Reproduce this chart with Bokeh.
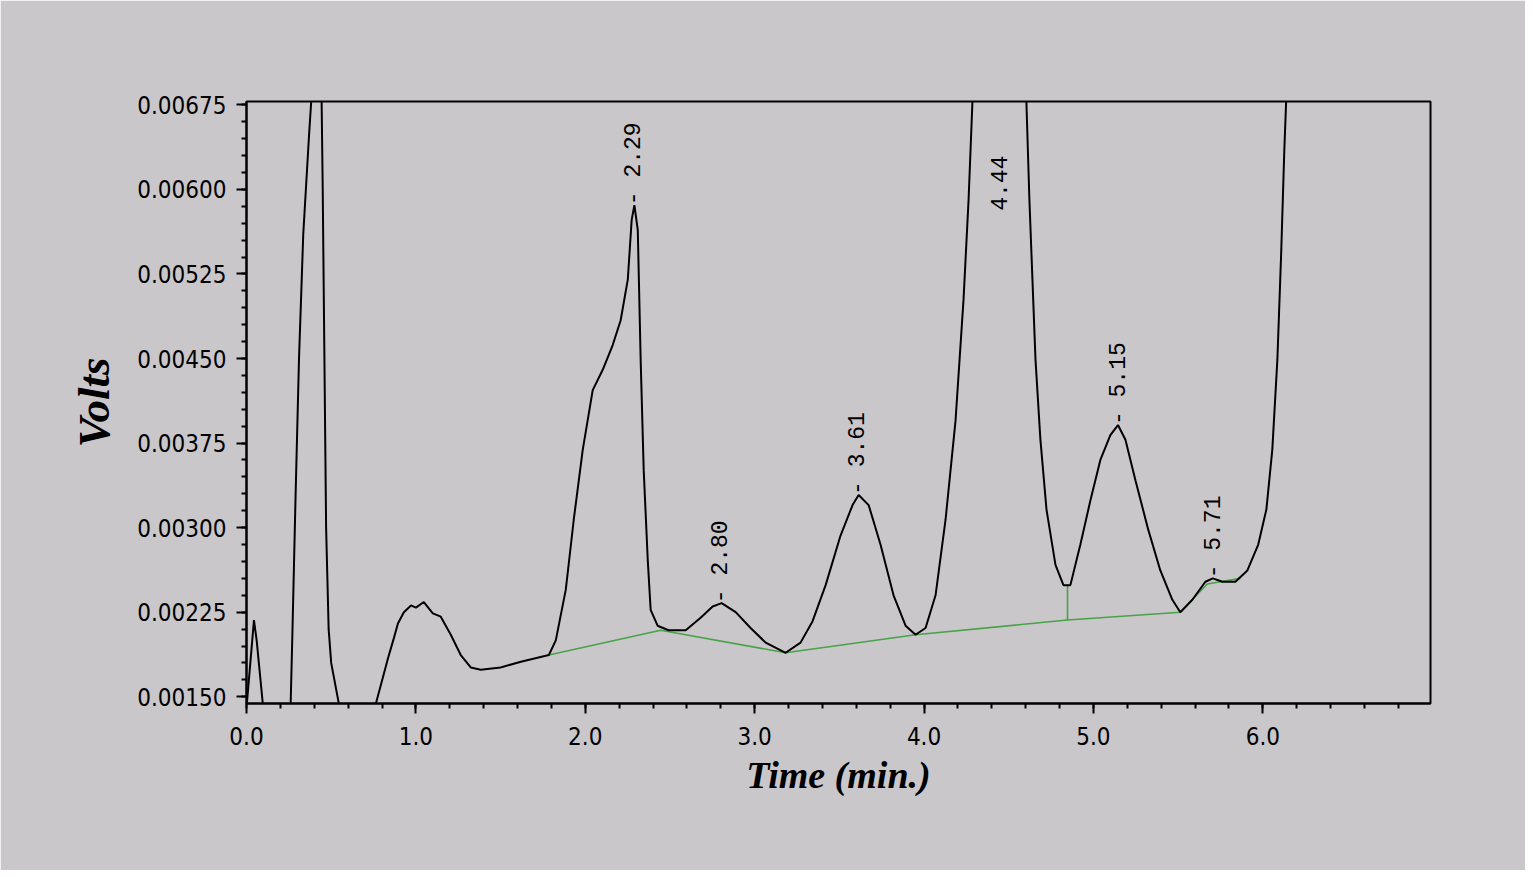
import math
from bokeh.plotting import figure
from bokeh.models import Range1d, FixedTicker, ColumnDataSource, PrintfTickFormatter
from bokeh.core.properties import value
from bokeh.embed import file_html
from bokeh.resources import INLINE

# ---- data ----
trace_time = [0.00, 0.044, 0.06, 0.10,
              0.26, 0.27, 0.29, 0.31, 0.335, 0.37, 0.40, 0.42, 0.44, 0.45, 0.46, 0.47, 0.485, 0.50, 0.55,
              0.764, 0.835, 0.870, 0.894, 0.929, 0.971, 1.000, 1.047, 1.100, 1.147, 1.206, 1.265, 1.324,
              1.383, 1.500, 1.620, 1.785, 1.826, 1.885, 1.932, 1.985, 2.044, 2.103, 2.162, 2.209, 2.251,
              2.274, 2.290, 2.310, 2.327, 2.345, 2.369, 2.386, 2.427, 2.492, 2.593, 2.681, 2.752, 2.805,
              2.888, 2.976, 3.065, 3.183, 3.271, 3.342, 3.419, 3.507, 3.578, 3.614, 3.673, 3.743, 3.820,
              3.891, 3.950, 4.009, 4.068, 4.127, 4.186, 4.233, 4.263, 4.286, 4.44, 4.604, 4.622, 4.640,
              4.658, 4.687, 4.723, 4.776, 4.823, 4.864, 4.923, 4.982, 5.041, 5.100, 5.145, 5.189, 5.248,
              5.324, 5.395, 5.466, 5.513, 5.584, 5.661, 5.705, 5.761, 5.838, 5.909, 5.973, 6.021, 6.056,
              6.086, 6.109, 6.127, 6.138, 6.150]
trace_volts = [0.00140, 0.00218, 0.00200, 0.00138,
               0.00140, 0.00200, 0.00330, 0.00450, 0.00560, 0.00650, 0.00720, 0.00760, 0.00720, 0.00600,
               0.00450, 0.00300, 0.00210, 0.00180, 0.00140,
               0.00144, 0.00184, 0.00202, 0.00215, 0.00225, 0.00231, 0.00229, 0.00234, 0.00224, 0.00221,
               0.00205, 0.00187, 0.00176, 0.00174, 0.00176, 0.00181, 0.00187, 0.00200, 0.00245, 0.00307,
               0.00369, 0.00422, 0.00440, 0.00462, 0.00484, 0.00520, 0.00573, 0.00586, 0.00564, 0.00449,
               0.00351, 0.00271, 0.00227, 0.00213, 0.00209, 0.00209, 0.00220, 0.00230, 0.00233, 0.00225,
               0.00211, 0.00198, 0.00189, 0.00198, 0.00217, 0.00249, 0.00293, 0.00320, 0.00329, 0.00320,
               0.00285, 0.00240, 0.00213, 0.00205, 0.00211, 0.00240, 0.00307, 0.00395, 0.00502, 0.00591,
               0.00679, 0.00900, 0.00679, 0.00591, 0.00520, 0.00449, 0.00378, 0.00316, 0.00267, 0.00249,
               0.00249, 0.00285, 0.00324, 0.00360, 0.00382, 0.00391, 0.00378, 0.00342, 0.00298, 0.00262,
               0.00236, 0.00225, 0.00236, 0.00252, 0.00255, 0.00252, 0.00252, 0.00262, 0.00285, 0.00316,
               0.00369, 0.00449, 0.00546, 0.00635, 0.00679, 0.00720]

baseline_time = [1.785, 2.445, 3.183, 3.950, 4.847, 5.513, 5.672, 5.867]
baseline_volts = [0.00187, 0.00209, 0.00189, 0.00205, 0.00218, 0.00225, 0.00250, 0.00255]
drop_time = [4.847, 4.847]
drop_volts = [0.00249, 0.00218]

peak_time = [2.29, 2.80, 3.61, 4.44, 5.15, 5.71]
peak_volts = [0.00586, 0.00233, 0.00329, 0.00581, 0.00391, 0.00255]
peak_text = ["- 2.29", "- 2.80", "- 3.61", "4.44", "- 5.15", "- 5.71"]

x_ticks = [0.0, 1.0, 2.0, 3.0, 4.0, 5.0, 6.0]
x_minor = [round(0.2 * i, 1) for i in range(35)]
y_ticks = [0.00150, 0.00225, 0.00300, 0.00375, 0.00450, 0.00525, 0.00600, 0.00675]
y_minor = [round(0.00150 + 0.00015 * i, 5) for i in range(36)]

BG = "#cac7cb"
TICK_FONT = "'DejaVu Sans Condensed', 'Liberation Sans', sans-serif"

p = figure(width=1525, height=870, output_backend="svg", toolbar_location=None,
           x_range=Range1d(0, 6.99), y_range=Range1d(0.00144, 0.00678),
           min_border_left=246, min_border_right=95, min_border_top=101, min_border_bottom=167,
           background_fill_color=BG, border_fill_color=BG)

p.outline_line_color = "black"
p.outline_line_width = 2
p.xgrid.visible = False
p.ygrid.visible = False

for ax in (p.xaxis[0], p.yaxis[0]):
    ax.axis_line_color = "black"
    ax.axis_line_width = 2
    ax.major_tick_line_color = "black"
    ax.major_tick_line_width = 2
    ax.minor_tick_line_color = "black"
    ax.minor_tick_line_width = 2
    ax.major_tick_out = 10
    ax.major_tick_in = 0
    ax.minor_tick_out = 5
    ax.minor_tick_in = 0
    ax.major_label_text_font = TICK_FONT
    ax.major_label_text_font_size = "24px"
    ax.major_label_text_color = "black"
    ax.axis_label_text_font = "Liberation Serif"
    ax.axis_label_text_font_style = "bold italic"
    ax.axis_label_text_color = "black"

p.xaxis.ticker = FixedTicker(ticks=x_ticks, minor_ticks=x_minor)
p.yaxis.ticker = FixedTicker(ticks=y_ticks, minor_ticks=y_minor)
p.xaxis.formatter = PrintfTickFormatter(format="%.1f")
p.yaxis.formatter = PrintfTickFormatter(format="%.5f")
p.xaxis.major_label_standoff = 13
p.yaxis.major_label_standoff = 10
p.xaxis.axis_label = "Time (min.)"
p.yaxis.axis_label = "Volts"
p.xaxis.axis_label_text_font_size = "38px"
p.yaxis.axis_label_text_font_size = "45px"
p.xaxis.axis_label_standoff = 6
p.yaxis.axis_label_standoff = 15

# baseline (green)
p.line(baseline_time, baseline_volts, line_color="#3a9e3a", line_width=1.6, line_alpha=0.9)
p.line(drop_time, drop_volts, line_color="#3a9e3a", line_width=1.6, line_alpha=0.9)

# chromatogram trace
p.line(trace_time, trace_volts, line_color="black", line_width=2)

# peak labels
src = ColumnDataSource(dict(x=peak_time, y=peak_volts, t=peak_text))
p.text(x="x", y="y", text="t", source=src, angle=math.pi / 2,
       text_align="left", text_baseline="middle",
       text_font=value("Liberation Mono"), text_font_size="23px", text_color="black")

open("out.html", "w").write(file_html(p, INLINE))
